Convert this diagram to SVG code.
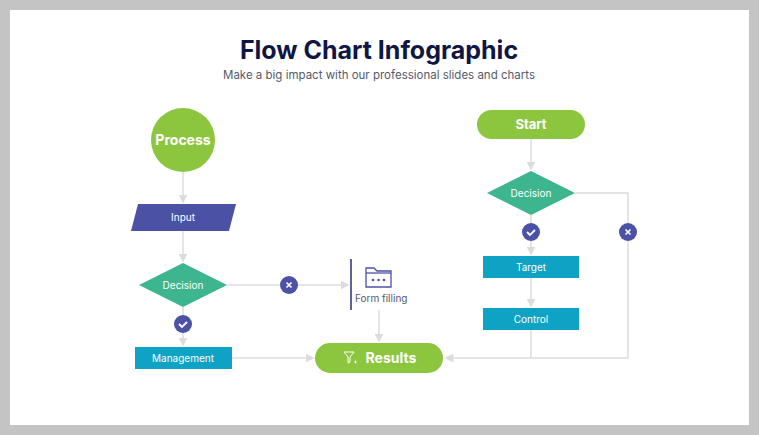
<svg xmlns="http://www.w3.org/2000/svg" width="759" height="435" viewBox="0 0 759 435">
<defs>
<style>
.c{stroke:#dcdcdc;stroke-width:1.5;fill:none}
.t{font-family:Inter,"Liberation Sans",sans-serif;fill:#fff;text-anchor:middle}
.b{font-weight:700}
</style>
<marker id="a" markerWidth="6" markerHeight="6" refX="5" refY="3" orient="auto"><path d="M0,0L6,3L0,6z" fill="#dcdcdc"/></marker>
</defs>
<rect width="759" height="435" fill="#c4c4c4"/>
<rect x="10" y="10" width="739" height="415" fill="#fff"/>
<text x="379" y="59" font-family="Inter,'Liberation Sans',sans-serif" font-weight="700" font-size="25" fill="#0f1545" text-anchor="middle">Flow Chart Infographic</text>
<text x="379" y="79" font-family="Inter,'Liberation Sans',sans-serif" font-size="11.5" fill="#555a6e" text-anchor="middle">Make a big impact with our professional slides and charts</text>
<g id="connectors">
<path class="c" d="M183,172V202" marker-end="url(#a)"/>
<path class="c" d="M183,231V261" marker-end="url(#a)"/>
<path class="c" d="M227,285H348" marker-end="url(#a)"/>
<path class="c" d="M183,307V345" marker-end="url(#a)"/>
<path class="c" d="M232,358H313" marker-end="url(#a)"/>
<path class="c" d="M379,310V341" marker-end="url(#a)"/>
<path class="c" d="M531,139V169" marker-end="url(#a)"/>
<path class="c" d="M531,215V254" marker-end="url(#a)"/>
<path class="c" d="M531,278V306" marker-end="url(#a)"/>
<path class="c" d="M575,193H628V358H446" marker-end="url(#a)"/>
<path class="c" d="M531,330V358"/>
</g>
<g id="process"><circle cx="183" cy="140" r="32" fill="#8cc63f"/><text class="t b" x="183" y="145" font-size="14">Process</text></g>
<g id="input"><path d="M138,204H236L229,231H131z" fill="#4b52a6"/><text class="t" x="183" y="221" font-size="10">Input</text></g>
<g id="decision1"><path d="M183,263L227,285L183,307L139,285z" fill="#3db68f"/><text class="t" x="183" y="289" font-size="10">Decision</text></g>
<g id="yes1"><circle cx="183" cy="324" r="9" fill="#4b52a6"/><path d="M179,324l3,3l5,-5" stroke="#fff" stroke-width="1.8" fill="none"/></g>
<g id="no1"><circle cx="289" cy="285" r="9" fill="#4b52a6"/><path d="M286.5,282.5l5,5M291.5,282.5l-5,5" stroke="#fff" stroke-width="1.6"/></g>
<g id="management"><rect x="135" y="347" width="97" height="22" fill="#0ea3c4"/><text class="t" x="183" y="362" font-size="10">Management</text></g>
<g id="form"><path d="M351,259V310" stroke="#2b2f7a" stroke-width="1.5"/>
<path d="M366,268h8l3,3h14v16h-25z" fill="none" stroke="#4b52a6" stroke-width="1.3"/><path d="M366,273h25" stroke="#4b52a6" stroke-width="1.3"/>
<circle cx="373" cy="280" r="1.3" fill="#4b52a6"/><circle cx="378.5" cy="280" r="1.3" fill="#4b52a6"/><circle cx="384" cy="280" r="1.3" fill="#4b52a6"/>
<text x="355" y="302" font-family="Inter,'Liberation Sans',sans-serif" font-size="10" fill="#555a6e">Form filling</text></g>
<g id="results"><rect x="315" y="343" width="128" height="30" rx="15" fill="#8cc63f"/>
<path d="M344,352h10l-4,5v5l-2,1v-6z" fill="none" stroke="#fff" stroke-width="1"/><path d="M354,362h3M355.5,360.5v3" stroke="#fff" stroke-width="0.8"/>
<text class="t b" x="391" y="363" font-size="14">Results</text></g>
<g id="start"><rect x="477" y="110" width="108" height="29" rx="14.5" fill="#8cc63f"/><text class="t b" x="531" y="129" font-size="13">Start</text></g>
<g id="decision2"><path d="M531,171L575,193L531,215L487,193z" fill="#3db68f"/><text class="t" x="531" y="197" font-size="10">Decision</text></g>
<g id="yes2"><circle cx="531" cy="232" r="9" fill="#4b52a6"/><path d="M527,232l3,3l5,-5" stroke="#fff" stroke-width="1.8" fill="none"/></g>
<g id="no2"><circle cx="628" cy="232" r="9" fill="#4b52a6"/><path d="M625.5,229.5l5,5M630.5,229.5l-5,5" stroke="#fff" stroke-width="1.6"/></g>
<g id="target"><rect x="483" y="256" width="96" height="22" fill="#0ea3c4"/><text class="t" x="531" y="271" font-size="10">Target</text></g>
<g id="control"><rect x="483" y="308" width="96" height="22" fill="#0ea3c4"/><text class="t" x="531" y="323" font-size="10">Control</text></g>
</svg>
